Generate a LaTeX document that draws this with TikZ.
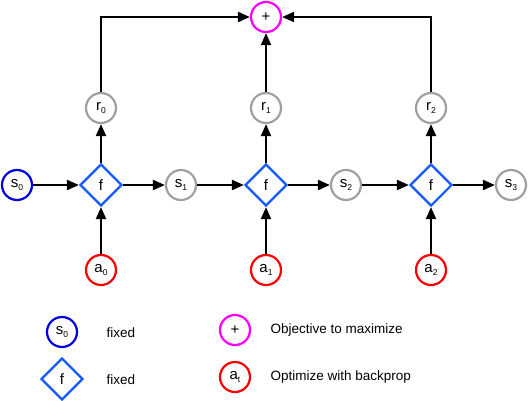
\documentclass[tikz,border=0pt]{standalone}
\usepackage{fontspec}
\setmainfont{Liberation Sans}
\usetikzlibrary{shapes.geometric,arrows.meta}
\definecolor{cblue}{RGB}{0,0,230}
\definecolor{dblue}{RGB}{20,90,255}
\definecolor{cgray}{RGB}{160,160,160}
\definecolor{cmag}{RGB}{255,0,255}
\definecolor{cred}{RGB}{255,0,0}
\newcommand\subx[1]{\raisebox{-0.45ex}{\fontsize{8.5}{8.5}\selectfont #1}}
\begin{document}
\begin{tikzpicture}[x=1pt,y=-1pt,
  every node/.style={font=\fontsize{15}{16}\selectfont},
  circ/.style={circle,draw,line width=2.2pt,minimum size=30pt,inner sep=0pt},
  fixedc/.style={circ,draw=cblue},
  grayc/.style={circ,draw=cgray},
  objc/.style={circ,draw=cmag},
  actc/.style={circ,draw=cred},
  fbox/.style={diamond,draw=dblue,line width=2.2pt,minimum width=42pt,minimum height=42pt,inner sep=0pt},
  arr/.style={line width=2.2pt,-{Triangle[length=12pt,width=10pt]}},
  lbl/.style={anchor=west,font=\fontsize{13.5}{15}\selectfont}]
\useasboundingbox (0,0) rectangle (530,400);
% main row
\node[fixedc] (s0) at (17,185) {s\subx{0}};
\node[fbox] (f0) at (101,185) {f};
\node[grayc] (s1) at (181,185) {s\subx{1}};
\node[fbox] (f1) at (266,185) {f};
\node[grayc] (s2) at (346,185) {s\subx{2}};
\node[fbox] (f2) at (431,185) {f};
\node[grayc] (s3) at (511,185) {s\subx{3}};
% rewards
\node[grayc] (r0) at (101,108) {r\subx{0}};
\node[grayc] (r1) at (266,108) {r\subx{1}};
\node[grayc] (r2) at (431,108) {r\subx{2}};
\node[objc] (plus) at (266,17) {+};
% actions
\node[actc] (a0) at (101,270) {a\subx{0}};
\node[actc] (a1) at (266,270) {a\subx{1}};
\node[actc] (a2) at (431,270) {a\subx{2}};
% connectors
\draw[arr] (s0) -- (f0);
\draw[arr] (f0) -- (s1);
\draw[arr] (s1) -- (f1);
\draw[arr] (f1) -- (s2);
\draw[arr] (s2) -- (f2);
\draw[arr] (f2) -- (s3);
\draw[arr] (a0) -- (f0);
\draw[arr] (a1) -- (f1);
\draw[arr] (a2) -- (f2);
\draw[arr] (f0) -- (r0);
\draw[arr] (f1) -- (r1);
\draw[arr] (f2) -- (r2);
\draw[arr] (r1) -- (plus);
\draw[arr] (r0) |- (plus);
\draw[arr] (r2) |- (plus);
% legend
\node[fixedc] (ls) at (62,332) {s\subx{0}};
\node[lbl] (lst) at (103,333) {fixed};
\node[fbox] (lf) at (62,379) {f};
\node[lbl] (lft) at (103,380) {fixed};
\node[objc] (lp) at (235,330) {+};
\node[lbl] (lpt) at (267,330) {Objective to maximize};
\node[actc] (la) at (235,377) {a\subx{t}};
\node[lbl] (lat) at (267,377) {Optimize with backprop};
\end{tikzpicture}
\end{document}
